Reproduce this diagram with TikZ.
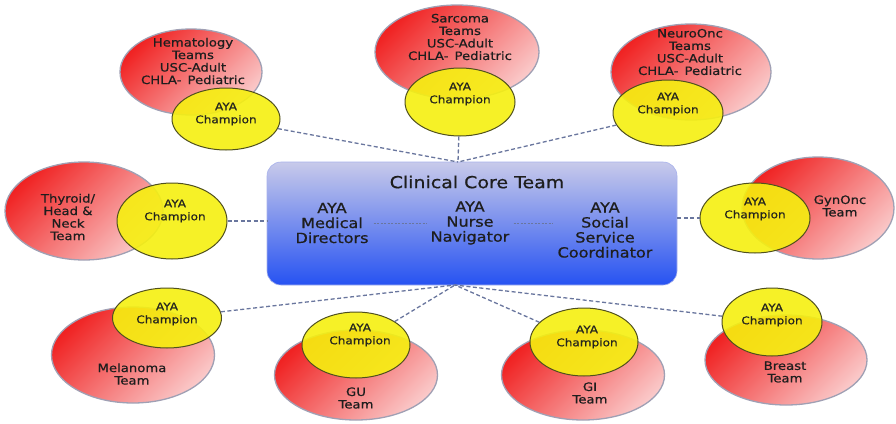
\documentclass[tikz,border=0pt]{standalone}
\usepackage{fontspec}
\setmainfont[FakeStretch=1.15,FakeBold=0.7]{DejaVu Sans}
\usetikzlibrary{shapes.geometric}
\definecolor{redhi}{RGB}{240,35,35}
\definecolor{redlo}{RGB}{250,200,200}
\definecolor{redline}{RGB}{160,160,180}
\definecolor{yelfill}{RGB}{246,240,16}
\definecolor{yelline}{RGB}{80,80,30}
\definecolor{linkcol}{RGB}{105,118,158}
\definecolor{coretop}{RGB}{200,202,234}
\definecolor{corebot}{RGB}{38,82,242}
\definecolor{txt}{RGB}{30,30,30}
\begin{document}
\begin{tikzpicture}[x=1pt,y=-1pt,
  teamoval/.style={ellipse,inner sep=0pt,draw=redline,line width=1.3pt,
    top color=redhi,bottom color=redlo,shading angle=45},
  champoval/.style={ellipse,inner sep=0pt,draw=yelline,line width=1pt,
    fill=yelfill,fill opacity=0.9},
  teamtext/.style={align=center,text=txt,inner sep=0pt,
    font=\fontsize{11.5}{12.5}\selectfont},
  champtext/.style={align=center,text=txt!85!yelline,inner sep=0pt,
    font=\fontsize{10.5}{13}\selectfont},
  coretext/.style={align=center,text=txt,inner sep=0pt,
    font=\fontsize{14}{15}\selectfont},
  link/.style={dash pattern=on 4pt off 2.5pt,draw=linkcol,line width=1.3pt},
  innerlink/.style={dash pattern=on 2pt off 1.5pt,draw=linkcol,line width=1pt}]
\useasboundingbox (0,0) rectangle (896,423);
\fill[white] (0,0) rectangle (896,423);

% team ovals
\node[teamoval,minimum width=142,minimum height=86] (hemR) at (191,72) {};
\node[teamoval,minimum width=164,minimum height=94] (sarR) at (457,52) {};
\node[teamoval,minimum width=160,minimum height=96] (neuR) at (691,72) {};
\node[teamoval,minimum width=158,minimum height=98] (thyR) at (84,211) {};
\node[teamoval,minimum width=152,minimum height=102] (gynR) at (818,208) {};
\node[teamoval,minimum width=163,minimum height=96] (melR) at (133,355) {};
\node[teamoval,minimum width=163,minimum height=90] (guR)  at (356,375) {};
\node[teamoval,minimum width=163,minimum height=90] (giR)  at (583,375) {};
\node[teamoval,minimum width=162,minimum height=90] (brR)  at (786,360) {};

% team names
\node[teamtext] (hemT) at (193,61) {Hematology\\Teams\\USC-Adult\\CHLA-\, Pediatric};
\node[teamtext] (sarT) at (460,37) {Sarcoma\\Teams\\USC-Adult\\CHLA-\, Pediatric};
\node[teamtext] (neuT) at (690,52) {NeuroOnc\\Teams\\USC-Adult\\CHLA-\, Pediatric};
\node[teamtext] (thyT) at (68,217) {Thyroid/\\Head \&\\Neck\\Team};
\node[teamtext] (gynT) at (840,206) {GynOnc\\Team};
\node[teamtext] (melT) at (132,374) {Melanoma\\Team};
\node[teamtext] (guT)  at (356,398) {GU\\Team};
\node[teamtext] (giT)  at (590,393) {GI\\Team};
\node[teamtext] (brT)  at (785,372) {Breast\\Team};

% champion ovals
\node[champoval,minimum width=108,minimum height=62] (hemY) at (226,119) {};
\node[champoval,minimum width=110,minimum height=68] (sarY) at (460,102) {};
\node[champoval,minimum width=110,minimum height=66] (neuY) at (668,113) {};
\node[champoval,minimum width=110,minimum height=76] (thyY) at (172,221) {};
\node[champoval,minimum width=110,minimum height=70] (gynY) at (755,218) {};
\node[champoval,minimum width=109,minimum height=60] (melY) at (167,318) {};
\node[champoval,minimum width=108,minimum height=66] (guY)  at (356,345) {};
\node[champoval,minimum width=108,minimum height=68] (giY)  at (584,342) {};
\node[champoval,minimum width=100,minimum height=68] (brY)  at (772,322) {};

\node[champtext] (hemC) at (226,114) {AYA\\Champion};
\node[champtext] (sarC) at (460,94) {AYA\\Champion};
\node[champtext] (neuC) at (668,104) {AYA\\Champion};
\node[champtext] (thyC) at (175,211) {AYA\\Champion};
\node[champtext] (gynC) at (755,209) {AYA\\Champion};
\node[champtext] (melC) at (167,314) {AYA\\Champion};
\node[champtext] (guC)  at (360,335) {AYA\\Champion};
\node[champtext] (giC)  at (587,337) {AYA\\Champion};
\node[champtext] (brC)  at (772,315) {AYA\\Champion};

% clinical core team box
\node[rectangle,rounded corners=14pt,minimum width=410,minimum height=123,
  top color=coretop,bottom color=corebot,draw=coretop!80!corebot,line width=0.6pt]
  (core) at (472,223.5) {};
\node[inner sep=0pt,text=txt,font=\fontsize{16.5}{18}\selectfont] (coreT) at (477,182) {Clinical Core Team};
\node[coretext] (med)    at (332,223) {AYA\\Medical\\Directors};
\node[coretext] (nurse)  at (470,223) {AYA\\Nurse\\Navigator};
\node[coretext] (social) at (605,230) {AYA\\Social\\Service\\Coordinator};
\draw[innerlink] ([xshift=5pt]med.east) -- ([xshift=-4pt]nurse.west);
\draw[innerlink] ([xshift=4pt]nurse.east) -- ([xshift=-5pt]nurse.east -| social.west);

% connectors from the champions to the core team
\coordinate (hubT) at (458,162);
\coordinate (hubB) at (455,285);
\draw[link] (hemY) -- (hubT);
\draw[link] (sarY) -- (hubT);
\draw[link] (neuY) -- (hubT);
\draw[link] (thyY.east) -- (thyY.east -| core.west);
\draw[link] (gynY.west -| core.east) -- (gynY.west);
\draw[link] (melY) -- (hubB);
\draw[link] (guY) -- (hubB);
\draw[link] (giY) -- (hubB);
\draw[link] (brY) -- (hubB);
\end{tikzpicture}
\end{document}
